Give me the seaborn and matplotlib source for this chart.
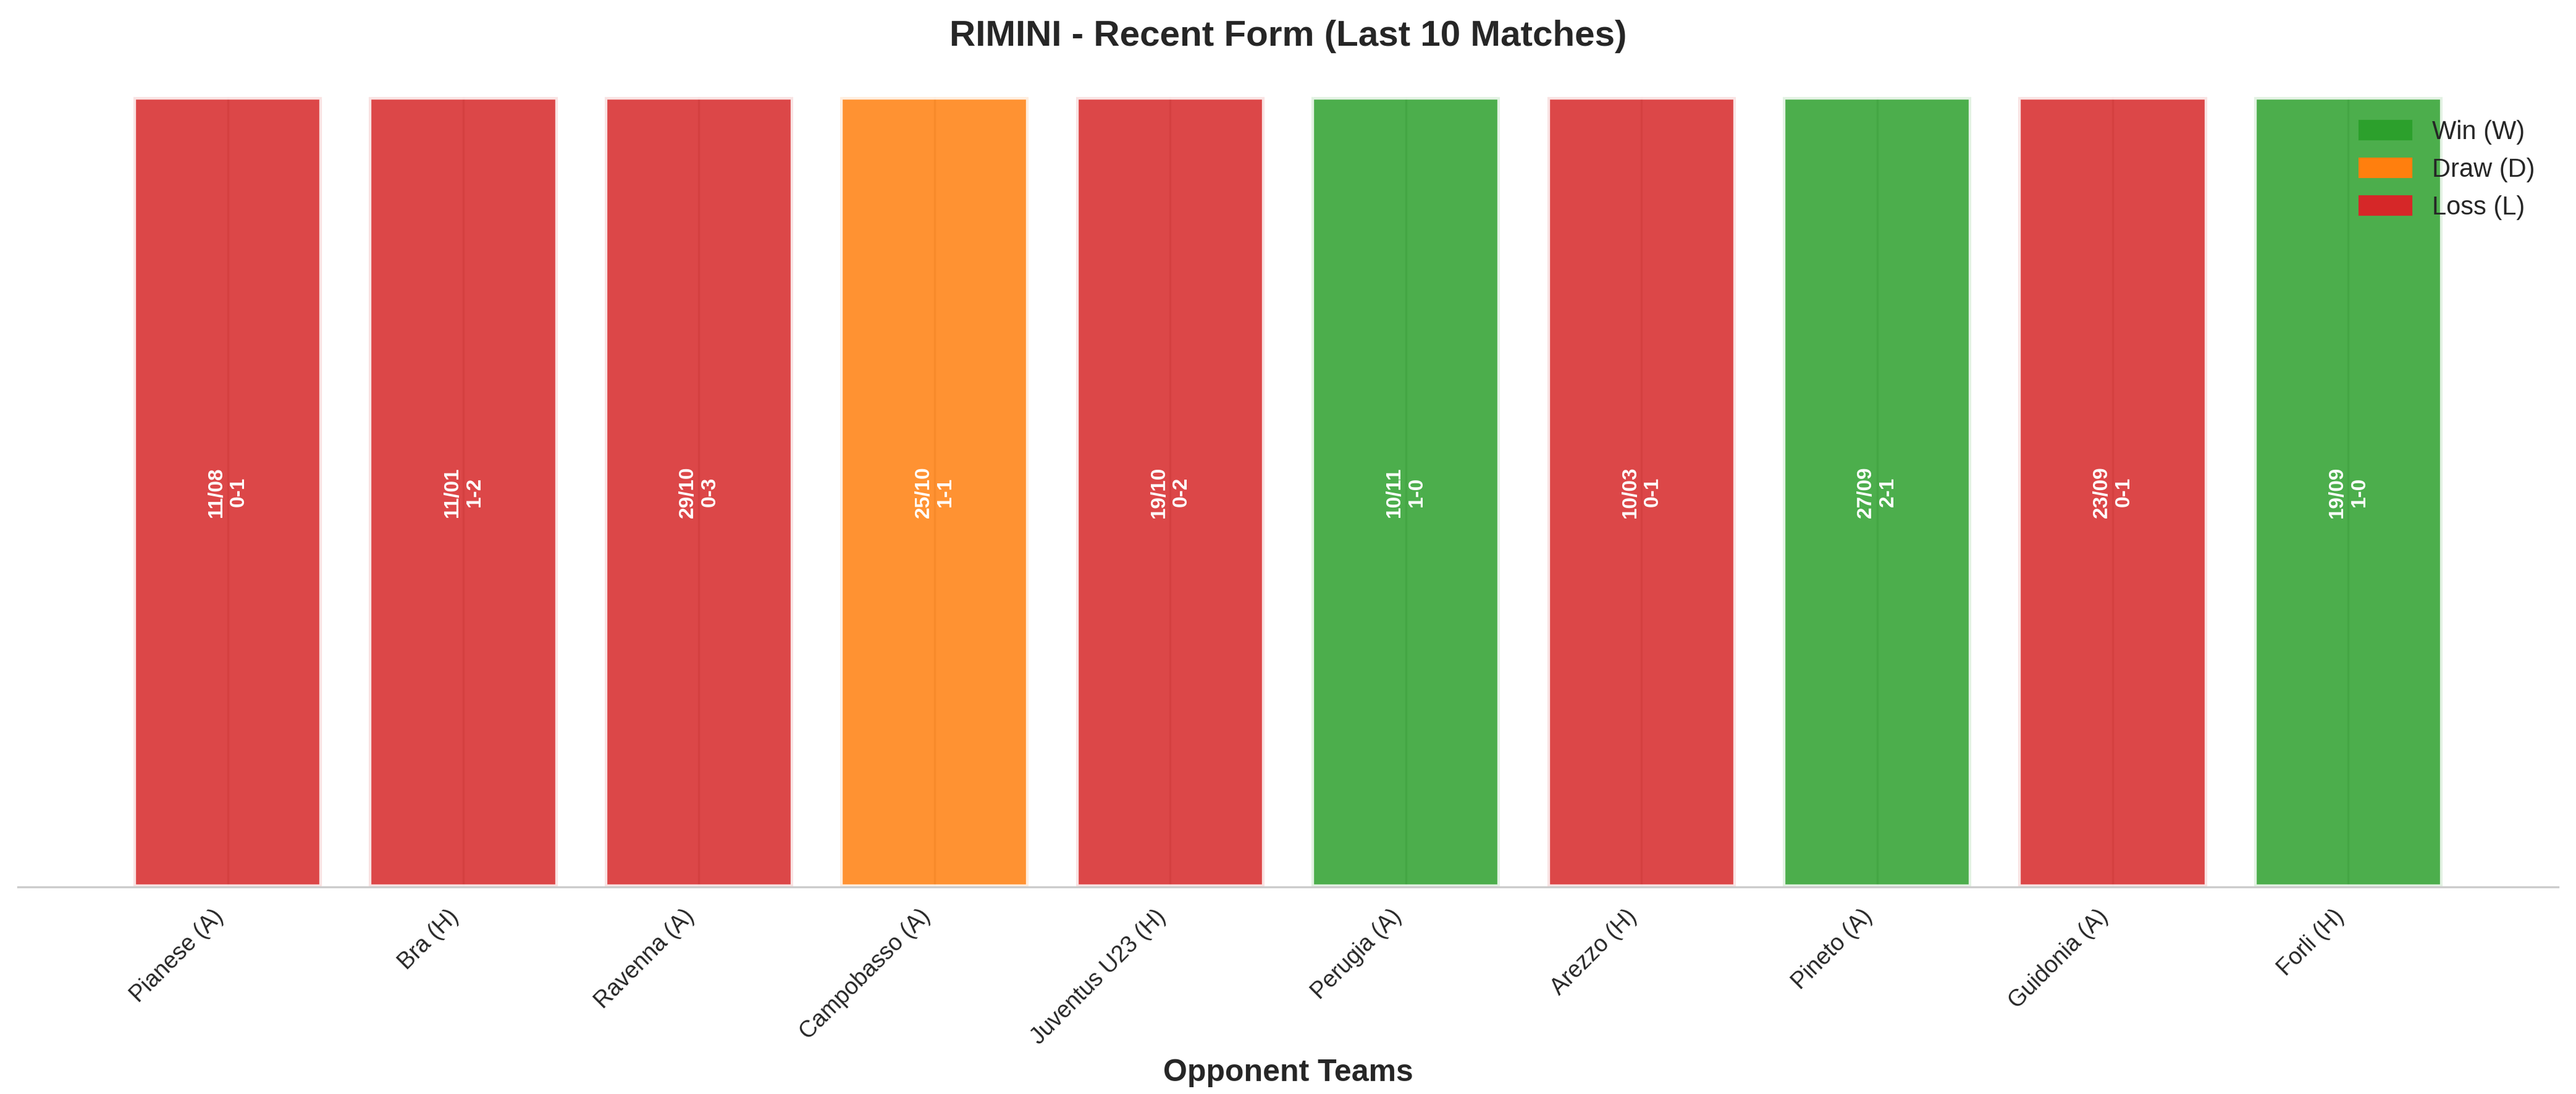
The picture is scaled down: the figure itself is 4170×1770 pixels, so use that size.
import numpy as np
import pandas as pd
import matplotlib
matplotlib.use("Agg")
import matplotlib.pyplot as plt
import matplotlib.patches as mpatches
import seaborn as sns

# match data, most recent first
opponents = ["Pianese (A)", "Bra (H)", "Ravenna (A)", "Campobasso (A)", "Juventus U23 (H)",
             "Perugia (A)", "Arezzo (H)", "Pineto (A)", "Guidonia (A)", "Forli (H)"]
dates = ["11/08", "11/01", "29/10", "25/10", "19/10", "10/11", "10/03", "27/09", "23/09", "19/09"]
scores = ["0-1", "1-2", "0-3", "1-1", "0-2", "1-0", "0-1", "2-1", "0-1", "1-0"]
results = ["L", "L", "L", "D", "L", "W", "L", "W", "L", "W"]
heights = [1, 1, 1, 1, 1, 1, 1, 1, 1, 1]

result_colors = {"W": "#2ca02c", "D": "#ff7f0e", "L": "#d62728"}
legend_labels = {"W": "Win (W)", "D": "Draw (D)", "L": "Loss (L)"}

sns.set_style("whitegrid")
plt.rcParams['font.family'] = ['Liberation Sans', 'DejaVu Sans']

df = pd.DataFrame({"opponent": opponents, "height": heights, "result": results})

fig, ax = plt.subplots(figsize=(13.9, 5.9), dpi=300)
fig.subplots_adjust(left=0.007, right=0.993, top=0.9113, bottom=0.189)

sns.barplot(data=df, x="opponent", y="height", hue="result", palette=result_colors,
            dodge=False, width=0.8, saturation=1, alpha=0.85, edgecolor="white",
            linewidth=2, legend=False, ax=ax)

# seaborn turns off the categorical grid and trims limits; restore matplotlib look
ax.xaxis.grid(True)
ax.set_xlim(-0.89, len(opponents) - 1 + 0.89)
ax.set_ylim(0, 1)

for i, (d, s) in enumerate(zip(dates, scores)):
    ax.text(i, heights[i] / 2, f"{d}\n{s}", ha="center", va="center", rotation=90,
            color="white", fontsize=8, fontweight="bold")

ax.set_yticks([])
ax.set_ylabel("")
ax.set_xlabel("Opponent Teams", fontsize=12, fontweight="bold")
ax.set_title("RIMINI - Recent Form (Last 10 Matches)", fontsize=14, fontweight="bold", pad=20)
plt.setp(ax.get_xticklabels(), rotation=45, ha="right", fontsize=9)
sns.despine(ax=ax, left=True)

handles = [mpatches.Patch(color=result_colors[k], label=legend_labels[k]) for k in ["W", "D", "L"]]
ax.legend(handles=handles, loc="upper right", frameon=False, fontsize=10)

fig.savefig("out.png", dpi=300)
